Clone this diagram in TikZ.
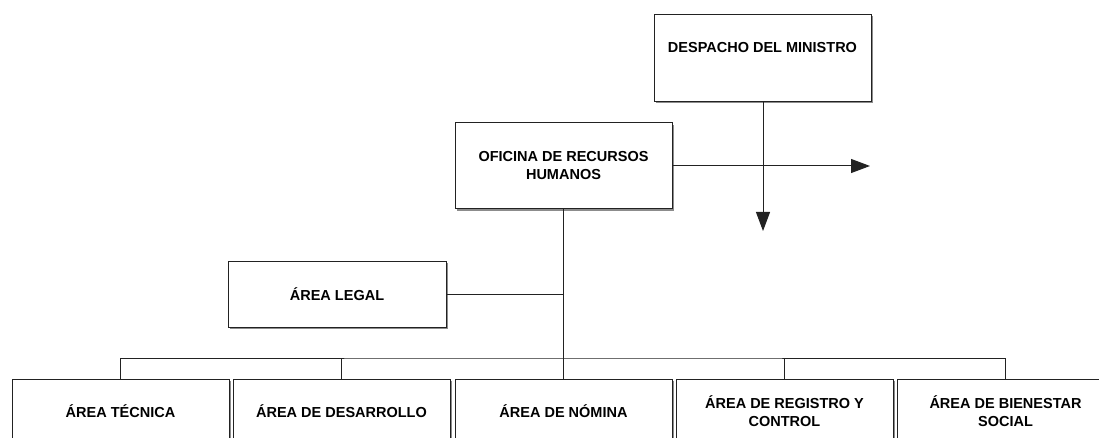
\documentclass[tikz,border=0pt]{standalone}
\usepackage{fontspec}
\setmainfont{Liberation Sans}
\usetikzlibrary{arrows.meta,shadows}
\definecolor{linec}{HTML}{222222}
\tikzset{
  box/.style={draw=linec, line width=1pt, fill=white, rectangle, inner sep=0pt,
    align=center, font=\fontsize{14.5}{18}\selectfont\bfseries,
    drop shadow={shadow xshift=2pt, shadow yshift=-2pt, fill=black!45, opacity=1}},
  conn/.style={draw=linec, line width=1pt},
  arr/.style={conn, -{Triangle[length=19pt, width=14pt]}}
}
\begin{document}
\begin{tikzpicture}[x=1pt, y=-1pt]
\useasboundingbox (0,0) rectangle (1099,438);
\begin{scope}
\clip (0,0) rectangle (1099,438);
\node[box, minimum width=217pt, text height=38.5pt, text depth=48.5pt] (desp) at (762.5,14) [anchor=north] {DESPACHO DEL MINISTRO};
\node[box, minimum width=217pt, minimum height=86pt] (orh) at (563.5,166) {OFICINA DE RECURSOS\\HUMANOS};
\node[box, minimum width=218pt, minimum height=66pt] (legal) at (337,294) {ÁREA LEGAL};
\node[box, minimum width=217pt, minimum height=64pt] (tec) at (120.5,411) {ÁREA TÉCNICA};
\node[box, minimum width=217pt, minimum height=64pt] (des) at (341.5,411) {ÁREA DE DESARROLLO};
\node[box, minimum width=217pt, minimum height=64pt] (nom) at (563.5,411) {ÁREA DE NÓMINA};
\node[box, minimum width=217pt, minimum height=64pt] (reg) at (784.5,411) {ÁREA DE REGISTRO Y\\CONTROL};
\node[box, minimum width=217pt, minimum height=64pt] (bien) at (1005.5,411) {ÁREA DE BIENESTAR\\SOCIAL};
\coordinate (rtip) at (870,166);
\coordinate (dtip) at (763,231);
\coordinate (bus) at (563.5,358);
\draw[arr] (orh.east) -- (rtip);
\draw[arr] (desp.south -| dtip) -- (dtip);
\draw[conn] (orh.south) -- (bus);
\draw[conn] (legal.east) -- (legal.east -| orh.south);
\draw[conn] (tec.north) |- (bus) -| (bien.north);
\draw[conn] (des.north) -- (des.north |- bus);
\draw[conn] (nom.north) -- (bus);
\draw[conn] (reg.north) -- (reg.north |- bus);
\end{scope}
\end{tikzpicture}
\end{document}
